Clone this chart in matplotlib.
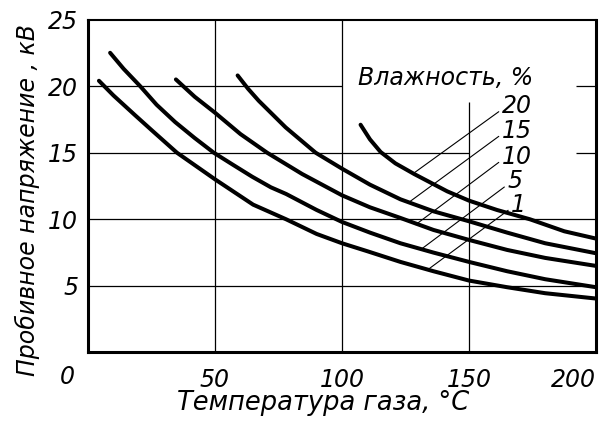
import matplotlib
matplotlib.use("Agg")
import matplotlib.pyplot as plt

# breakdown voltage vs gas temperature, one curve per humidity level
humidity = ["1", "5", "10", "15", "20"]

t_1 = [4.3, 10, 18.6, 25, 35, 50, 65, 78, 90, 100, 110, 123, 136, 150, 165, 180, 200]
u_1 = [20.4, 19.3, 17.8, 16.7, 15.0, 13.0, 11.1, 10.0, 8.9, 8.2, 7.6, 6.8, 6.1, 5.4, 4.9, 4.45, 4.05]

t_5 = [8.7, 14, 20.5, 27, 34.3, 42, 49.5, 57, 64.6, 72, 78, 90, 100, 111, 123, 136, 150, 165, 180, 200]
u_5 = [22.5, 21.3, 20.0, 18.6, 17.3, 16.1, 15.0, 14.1, 13.2, 12.4, 11.9, 10.7, 9.8, 9.0, 8.2, 7.5, 6.8, 6.1, 5.5, 4.9]

t_10 = [34.6, 42, 50, 60, 70.5, 84.3, 100, 111, 123, 136, 150, 165, 180, 200]
u_10 = [20.5, 19.2, 18.0, 16.4, 15.0, 13.4, 11.8, 10.9, 10.1, 9.2, 8.45, 7.7, 7.1, 6.5]

t_15 = [58.9, 63, 67.2, 77.8, 89.6, 100, 111, 123, 136, 150, 165, 180, 200]
u_15 = [20.8, 19.8, 18.9, 16.9, 15.0, 13.8, 12.6, 11.5, 10.6, 9.85, 9.0, 8.2, 7.45]

t_20 = [107.3, 111, 115.2, 121, 128.4, 141.4, 150, 161, 174, 187.5, 200]
u_20 = [17.1, 16.0, 15.05, 14.2, 13.4, 12.1, 11.4, 10.7, 10.0, 9.1, 8.55]

# where each leader line touches its curve, and where its label sits
leader_t = [134.0, 131.5, 129.0, 126.5, 128.5]
leader_u = [6.25, 7.8, 9.6, 11.3, 13.5]
label_t = [166.5, 165.0, 162.8, 162.8, 162.8]
label_u = [11.1, 12.85, 14.7, 16.65, 18.5]

x_ticks = [50, 100, 150, 200]
y_ticks = [5, 10, 15, 20, 25]

plt.rcParams["font.family"] = ["DejaVu Sans"]
plt.rcParams["font.style"] = "italic"

fig = plt.figure(figsize=(6.1, 4.23), dpi=100)
ax = fig.add_axes([0.1443, 0.1667, 0.8328, 0.7872])
ax.set_xlim(0, 200)
ax.set_ylim(0, 25)

# partial grid, drawn by hand like the printed nomogram
grid_kw = dict(color="black", linewidth=0.9, zorder=1)
ax.hlines([5, 10], 0, 200, **grid_kw)
ax.hlines(15, 0, 150, **grid_kw)
ax.hlines(20, 0, 100, **grid_kw)
ax.hlines([15, 20], 192, 200, **grid_kw)
ax.vlines([50, 100], 0, 25, **grid_kw)
ax.vlines(150, 0, 18.8, **grid_kw)

series = [(t_1, u_1), (t_5, u_5), (t_10, u_10), (t_15, u_15), (t_20, u_20)]
for t, u in series:
    ax.plot(t, u, color="black", linewidth=2.9, solid_capstyle="round",
            solid_joinstyle="round", zorder=3)

for name, xe, ye, xl, yl in zip(humidity, leader_t, leader_u, label_t, label_u):
    ax.annotate(name, xy=(xe, ye), xytext=(xl, yl), fontsize=17,
                ha="left", va="center", color="black",
                arrowprops=dict(arrowstyle="-", color="black", linewidth=0.8,
                                shrinkA=0, shrinkB=0, relpos=(0.0, 0.35)))

ax.text(140.8, 20.6, "Влажность, %", fontsize=17, ha="center", va="center")

for side in ["left", "bottom", "right"]:
    ax.spines[side].set_linewidth(2.2)
ax.spines["top"].set_linewidth(1.5)

ax.set_xticks(x_ticks)
ax.set_yticks(y_ticks)
ax.tick_params(length=0, labelsize=17)
ax.tick_params(axis="x", pad=11)
ax.tick_params(axis="y", pad=7)
ax.get_xticklabels()[-1].set_horizontalalignment("right")
ax.text(-8, -1.85, "0", fontsize=17, ha="center", va="center", clip_on=False)

fig.text(323 / 610, 1 - 403 / 423, "Температура газа, °C", fontsize=18.5,
         ha="center", va="center")
fig.text(27 / 610, 1 - 200 / 423, "Пробивное напряжение , кВ", fontsize=17,
         ha="center", va="center", rotation=90)

fig.savefig("out.png", dpi=100)
